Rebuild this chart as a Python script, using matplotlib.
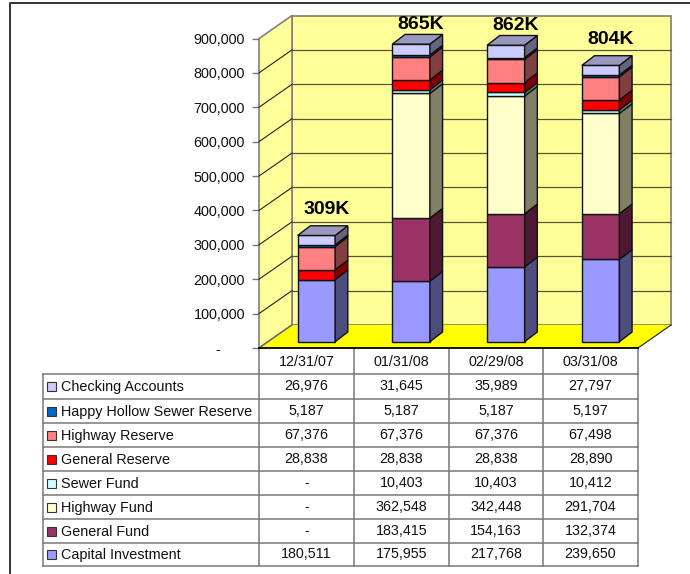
import matplotlib
matplotlib.use('Agg')
import matplotlib.pyplot as plt
from matplotlib.patches import Polygon, Rectangle

plt.rcParams['font.family'] = ['Liberation Sans', 'DejaVu Sans']

dates = ['12/31/07', '01/31/08', '02/29/08', '03/31/08']

# bottom of the stack first
capital_investment = [180511, 175955, 217768, 239650]
general_fund = [0, 183415, 154163, 132374]
highway_fund = [0, 362548, 342448, 291704]
sewer_fund = [0, 10403, 10403, 10412]
general_reserve = [28838, 28838, 28838, 28890]
highway_reserve = [67376, 67376, 67376, 67498]
happy_hollow = [5187, 5187, 5187, 5197]
checking = [26976, 31645, 35989, 27797]

series_names = ['Capital Investment', 'General Fund', 'Highway Fund', 'Sewer Fund',
                'General Reserve', 'Highway Reserve', 'Happy Hollow Sewer Reserve',
                'Checking Accounts']
series_values = [capital_investment, general_fund, highway_fund, sewer_fund,
                 general_reserve, highway_reserve, happy_hollow, checking]
front_colors = ['#9999FF', '#993366', '#FFFFCC', '#CCFFFF',
                '#FF0000', '#FF8080', '#0066CC', '#CCCCFF']
side_colors = ['#4D4D80', '#4D1933', '#808066', '#668080',
               '#800000', '#804040', '#003366', '#666680']
top_color = '#9999BF'

y_ticks = [0, 100000, 200000, 300000, 400000, 500000, 600000, 700000, 800000, 900000]

W, H = 690, 574
LEFT, RIGHT, BOTTOM, TOP = 259, 638, 348, 38.5
X_PX = 4 / (RIGHT - LEFT)
Y_PX = 900000 / (BOTTOM - TOP)

fig = plt.figure(figsize=(W / 100, H / 100), dpi=100, facecolor='white')

# page frame and table live on a pixel axes
page = fig.add_axes([0, 0, 1, 1])
page.set_xlim(0, W)
page.set_ylim(H, 0)
page.axis('off')
page.plot([10, 10, W], [H, 2.5, 2.5], color='#333333', lw=1.4)

col_lines = [259, 354, 449, 543, 638]
row_lines = [374, 399, 423, 447, 471, 495, 519, 543, 566]
grey = '#777777'
for x in col_lines:
    page.plot([x, x], [BOTTOM, row_lines[-1]], color=grey, lw=1.1)
page.plot([42.5, 42.5], [row_lines[0], row_lines[-1]], color=grey, lw=1.1)
for y in row_lines:
    page.plot([42.5, RIGHT], [y, y], color=grey, lw=1.1)

for i, d in enumerate(dates):
    page.text((col_lines[i] + col_lines[i + 1]) / 2, 361.5, d, ha='center', va='center',
              fontsize=10.3, color='#111111')

for r, s in enumerate(reversed(range(len(series_names)))):
    mid = (row_lines[r] + row_lines[r + 1]) / 2
    page.add_patch(Rectangle((47, mid - 4.5), 9, 9, facecolor=front_colors[s],
                             edgecolor='#333333', lw=0.8))
    page.text(61, mid + 1, series_names[s], ha='left', va='center', fontsize=10.4,
              color='#111111')
    for i in range(len(dates)):
        v = series_values[s][i]
        label = f'{v:,}' if v else '-'
        page.text((col_lines[i] + col_lines[i + 1]) / 2, mid, label, ha='center',
                  va='center', fontsize=10.3, color='#111111')

# chart axes: front plane of the 3D box, in data units
ax = fig.add_axes([LEFT / W, 1 - BOTTOM / H, (RIGHT - LEFT) / W, (BOTTOM - TOP) / H])
ax.patch.set_alpha(0)
ax.set_xlim(0, 4)
ax.set_ylim(0, 900000)
for s in ax.spines.values():
    s.set_visible(False)
ax.set_xticks([])
ax.set_yticks(y_ticks)
ax.set_yticklabels(['-      '] + [f'{t:,}' for t in y_ticks[1:]], fontsize=10.4, color='#111111')
ax.tick_params(axis='y', length=5, width=1, color=grey, pad=5)

box_dx = 33 * X_PX
box_dy = 23 * Y_PX

ax.add_patch(Polygon([(box_dx, box_dy), (4 + box_dx, box_dy), (4 + box_dx, 900000 + box_dy),
                      (box_dx, 900000 + box_dy)], facecolor='#FFFF99', edgecolor='#808060',
                     lw=1.2, clip_on=False, zorder=1))
ax.add_patch(Polygon([(0, 0), (box_dx, box_dy), (box_dx, 900000 + box_dy), (0, 900000)],
                     facecolor='#FFFF99', edgecolor='#808080', lw=1.2, clip_on=False, zorder=1))
ax.add_patch(Polygon([(0, 0), (4, 0), (4 + box_dx, box_dy), (box_dx, box_dy)],
                     facecolor='#FFFF00', edgecolor='none', clip_on=False, zorder=1))
ax.plot([4, 4 + box_dx], [0, box_dy], color='#333333', lw=0.9, clip_on=False, zorder=2)
ax.plot([0, box_dx], [0, box_dy], color='#666666', lw=1, clip_on=False, zorder=2)
ax.plot([0, 4], [0, 0], color='black', lw=1.3, clip_on=False, zorder=2)
for t in y_ticks[1:-1]:
    ax.plot([0, box_dx], [t, t + box_dy], color='#222222', lw=0.8, clip_on=False, zorder=2)
    ax.plot([box_dx, 4 + box_dx], [t + box_dy, t + box_dy], color='#55553a', lw=0.9,
            clip_on=False, zorder=2)

# bars
bar_w = 37.5 * X_PX
shift_x = 10 * X_PX
lift = 6.3 * Y_PX
side_dx = 12.7 * X_PX
side_dy = 9.7 * Y_PX
label_pad = [16, 10, 10, 16]

for i in range(len(dates)):
    x0 = i + 0.5 + shift_x - bar_w / 2
    x1 = x0 + bar_w
    base = lift
    for s, vals in enumerate(series_values):
        v = vals[i]
        if not v:
            continue
        ax.bar(x0, v, bar_w, bottom=base, align='edge', color=front_colors[s],
               edgecolor='#111111', lw=1.0, clip_on=False, zorder=3)
        ax.add_patch(Polygon([(x1, base), (x1 + side_dx, base + side_dy),
                              (x1 + side_dx, base + v + side_dy), (x1, base + v)],
                             facecolor=side_colors[s], edgecolor='#111111', lw=1.0,
                             clip_on=False, zorder=3))
        base += v
    ax.add_patch(Polygon([(x0, base), (x1, base), (x1 + side_dx, base + side_dy),
                          (x0 + side_dx, base + side_dy)], facecolor=top_color,
                         edgecolor='#111111', lw=1.0, clip_on=False, zorder=3))
    total = sum(vals[i] for vals in series_values)
    ax.text((x0 + x1) / 2 + 10 * X_PX, base + side_dy + label_pad[i] * Y_PX,
            f'{round(total / 1000)}K', ha='center', va='center', fontsize=14,
            fontweight='bold', color='black', clip_on=False, zorder=4)

fig.savefig('out.png', dpi=100)
